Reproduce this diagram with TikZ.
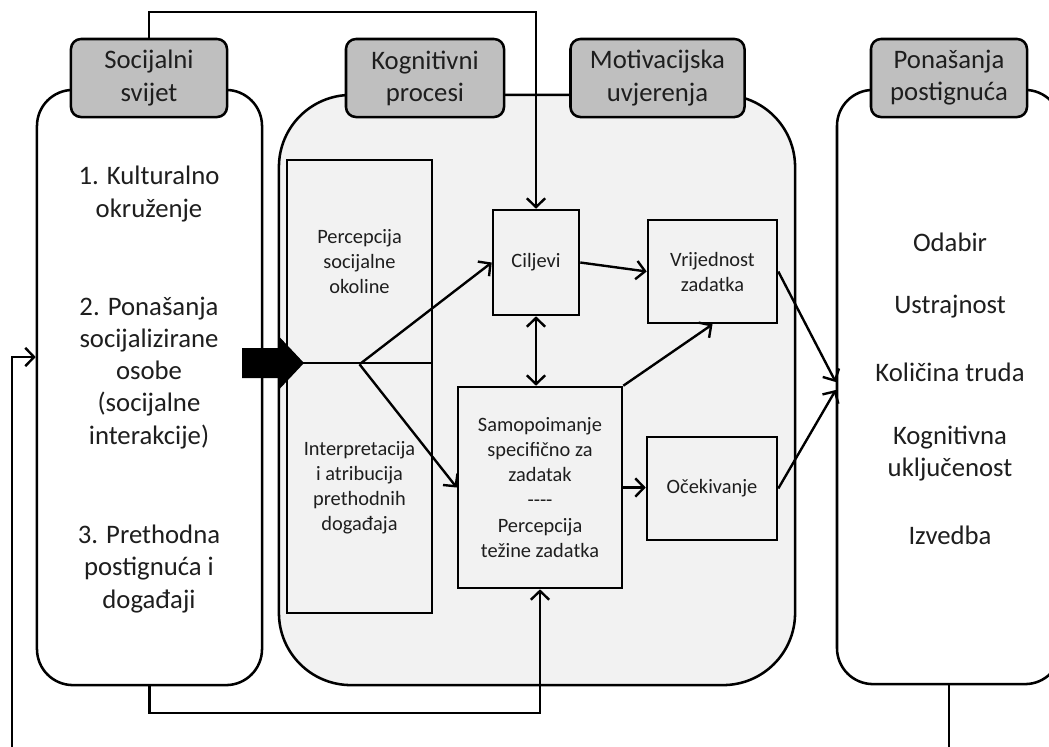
\documentclass[tikz,border=0pt]{standalone}
\usepackage{fontspec}
\setmainfont{Carlito}
\usepackage{tikz}
\usetikzlibrary{arrows.meta,calc}

\definecolor{tabgray}{HTML}{BFBFBF}
\definecolor{panelgray}{HTML}{F2F2F2}
\definecolor{inkgray}{HTML}{1E1E1E}

\begin{document}
\begin{tikzpicture}[x=0.025cm, y=-0.025cm,
  every node/.style={inner sep=0pt, align=center, text=inkgray},
  bigtxt/.style={font=\fontsize{19}{22.8}\selectfont},
  smalltxt/.style={font=\fontsize{14.5}{17.8}\selectfont},
  panel/.style={draw, line width=1.8pt},
  tab/.style={draw, line width=1.8pt, fill=tabgray, rounded corners=0.25cm,
    minimum height=1.95cm, bigtxt},
  inbox/.style={draw, line width=1.8pt, fill=panelgray, smalltxt},
  conn/.style={line width=1.7pt},
  arr/.style={conn, -{Straight Barb[length=2.2mm,width=4.6mm]}},
  dblarr/.style={conn, {Straight Barb[length=2.2mm,width=4.6mm]}-{Straight Barb[length=2.2mm,width=4.6mm]}}]
  \useasboundingbox (0,0) rectangle (1049,746);

  % the three panels
  \node[panel, fill=white, rounded corners=0.9cm, minimum width=5.625cm,
    minimum height=14.875cm] (soc) at (149.5,387.5) {};
  \node[panel, fill=panelgray, rounded corners=1.8cm, minimum width=12.9cm,
    minimum height=14.75cm] (mid) at (537,390) {};
  \node[panel, fill=white, rounded corners=0.9cm, minimum width=5.6cm,
    minimum height=14.85cm] (ach) at (949,387) {};

  % tabs on top
  \node[tab, minimum width=3.9cm] (soctab) at (149,78) {Socijalni\\svijet};
  \node[tab, minimum width=3.95cm] (kogtab) at (425,78) {Kognitivni\\procesi};
  \node[tab, minimum width=4.35cm] (mottab) at (657.5,78) {Motivacijska\\uvjerenja};
  \node[tab, minimum width=3.9cm] (achtab) at (949,78) {Ponašanja\\postignuća};

  % social world
  \node[bigtxt] (soc1) at (149,194) {1. Kulturalno\\okruženje};
  \node[bigtxt] (soc2) at (149,373) {2. Ponašanja\\socijalizirane\\osobe\\(socijalne\\interakcije)};
  \node[bigtxt] (soc3) at (149,569) {3. Prethodna\\postignuća i\\događaji};

  % achievement behaviours
  \node[bigtxt] (odabir) at (950,242) {Odabir};
  \node[bigtxt] (ustraj) at (950,307) {Ustrajnost};
  \node[bigtxt] (trud) at (950,372) {Količina truda};
  \node[bigtxt] (kogukl) at (950,454) {Kognitivna\\uključenost};
  \node[bigtxt] (izvedba) at (950,535) {Izvedba};

  % inner boxes
  \node[inbox, minimum width=3.625cm, minimum height=5.075cm] (perc) at (359.5,261.5)
    {Percepcija\\socijalne\\okoline};
  \node[inbox, minimum width=3.625cm, minimum height=6.25cm] (interp) at (359.5,488)
    {Interpretacija\\i atribucija\\prethodnih\\događaja};
  \node[inbox, minimum width=2.15cm, minimum height=2.625cm] (cilj) at (536,262.5) {Ciljevi};
  \node[inbox, minimum width=3.225cm, minimum height=2.575cm] (vrij) at (712.5,271.5)
    {Vrijednost\\zadatka};
  \node[inbox, minimum width=4.1cm, minimum height=5.025cm] (samo) at (540,487.5)
    {Samopoimanje\\specifično za\\zadatak\\{-}{-}{-}{-}\\Percepcija\\težine zadatka};
  \node[inbox, minimum width=3.25cm, minimum height=2.575cm] (ocek) at (712,488.5) {Očekivanje};

  % connectors
  \coordinate (split) at (perc.south);
  \coordinate (topline) at (0,12);
  \coordinate (botline) at (0,713);
  \coordinate (fbdown) at (12,775);
  \coordinate (fbin) at (12,357);
  \draw[arr] (split) -- (cilj.west);
  \draw[arr] (split) -- (samo.west);
  \draw[arr] (cilj.east) -- (vrij.west);
  \draw[dblarr] (cilj.south) -- (cilj.south |- samo.north);
  \draw[arr] (samo.north east) -- (vrij.south);
  \draw[arr] (samo.east) -- (samo.east -| ocek.west);
  \draw[arr] (vrij.east) -- ($(ach.west)+(0,-5)$);
  \draw[arr] (ocek.east) -- ($(ach.west)+(0,3)$);
  \draw[arr] (soctab.north) -- (soctab.north |- topline) -- (cilj.north |- topline) -- (cilj.north);
  \draw[arr] (soc.south) -- (soc.south |- botline) -- (samo.south |- botline) -- (samo.south);
  \draw[arr] (ach.south) -- (ach.south |- fbdown) -- (fbdown) -- (fbin) -- (fbin -| soc.west);

  % push into the cognitive processes
  \coordinate (pushtip) at (304,363);
  \fill (pushtip) -- ++(-24,-25.5) -- ++(0,10.5) -- ++(-38,0) -- ++(0,30)
    -- ++(38,0) -- ++(0,10.5) -- cycle;
\end{tikzpicture}
\end{document}
